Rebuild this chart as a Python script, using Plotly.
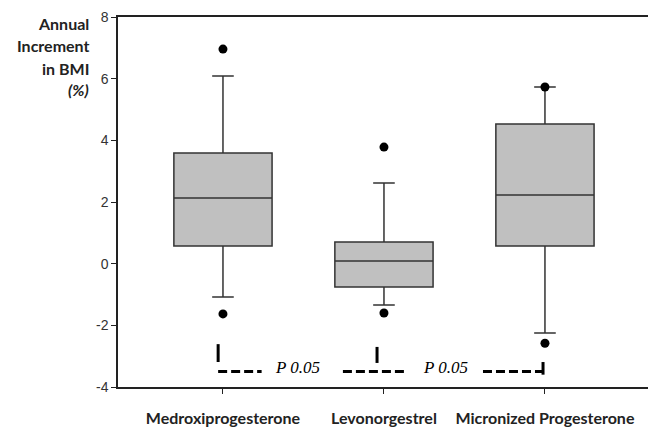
import plotly.graph_objects as go

# ---- data ----
categories = ["Medroxiprogesterone", "Levonorgestrel", "Micronized Progesterone"]
positions = [0, 1, 2]
q1 = [0.57, -0.76, 0.57]
median = [2.13, 0.09, 2.23]
q3 = [3.59, 0.70, 4.53]
lower_whisker = [-1.08, -1.34, -2.25]
upper_whisker = [6.09, 2.62, 5.73]
outlier_x = [0, 0, 1, 1, 2, 2]
outlier_y = [6.96, -1.63, 3.78, -1.60, 5.73, -2.58]

y_ticks = [-4, -2, 0, 2, 4, 6, 8]
y_ticktext = ["-4", "-2", "0", "2", "4", "6", "8"]

# comparison brackets (data coords)
dash_x0 = [-0.03, 0.745, 1.615]
dash_x1 = [0.24, 1.143, 1.988]
dash_y = -3.5
vert_x = [-0.03, 0.957, 1.988]
vert_y0 = [-2.61, -2.70, -3.19]
vert_y1 = [-3.19, -3.22, -3.60]
p_text = ["P 0.05", "P 0.05"]
p_x = [0.466, 1.38]
p_y = -3.38

fig = go.Figure()
fig.add_trace(go.Box(
    x=positions, q1=q1, median=median, q3=q3,
    lowerfence=lower_whisker, upperfence=upper_whisker,
    fillcolor="#c0c0c0", line=dict(color="#333333", width=1.5),
    width=0.61, whiskerwidth=0.22, boxpoints=False, showlegend=False,
    hoverinfo="skip",
))
fig.add_trace(go.Scatter(
    x=outlier_x, y=outlier_y, mode="markers",
    marker=dict(color="black", size=9), showlegend=False, hoverinfo="skip",
))

shapes = []
for a, b in zip(dash_x0, dash_x1):
    shapes.append(dict(type="line", x0=a, x1=b, y0=dash_y, y1=dash_y,
                       xref="x", yref="y",
                       line=dict(color="black", width=3, dash="9px,4px")))
for x, a, b in zip(vert_x, vert_y0, vert_y1):
    shapes.append(dict(type="line", x0=x, x1=x, y0=a, y1=b, xref="x", yref="y",
                       line=dict(color="black", width=3)))

annotations = []
for t, x in zip(p_text, p_x):
    annotations.append(dict(text="<i>" + t + "</i>", x=x, y=p_y, xref="x", yref="y",
                            showarrow=False,
                            font=dict(family="Liberation Serif", size=17, color="black")))

title_lines = ["Annual", "Increment", "in BMI", "<i>(%)</i>"]
title_px = [23, 46, 68, 89]
for t, py in zip(title_lines, title_px):
    annotations.append(dict(text="<b>" + t + "</b>", x=-(118 - 91) / 530,
                            y=1 - (py - 17) / 370, xref="paper", yref="paper",
                            xanchor="right", yanchor="middle", showarrow=False,
                            font=dict(family="Lato", size=16, color="#222222")))

fig.update_layout(
    width=648, height=429,
    margin=dict(l=118, r=0, t=17, b=42),
    paper_bgcolor="white", plot_bgcolor="white",
    shapes=shapes, annotations=annotations,
    xaxis=dict(range=[-0.652, 2.64], tickvals=positions, ticktext=categories,
               automargin=False,
               showgrid=False, zeroline=False, showline=True, linecolor="#222222",
               linewidth=1.5, mirror=True, ticks="outside", ticklen=5,
               tickcolor="#222222", ticklabelstandoff=11,
               tickfont=dict(family="Lato", size=16, color="#222222", weight="bold")),
    yaxis=dict(range=[-4, 8], tickvals=y_ticks, ticktext=y_ticktext,
               showgrid=False, zeroline=False,
               automargin=False,
               showline=True, linecolor="#222222", linewidth=1.5, ticks="outside",
               ticklen=5, tickcolor="#222222",
               tickfont=dict(family="Liberation Sans", size=14, color="#333333")),
)

fig.write_html("out.html", config={"displayModeBar": False},
               post_script="document.body.style.margin='0px';document.body.style.overflow='hidden';")
